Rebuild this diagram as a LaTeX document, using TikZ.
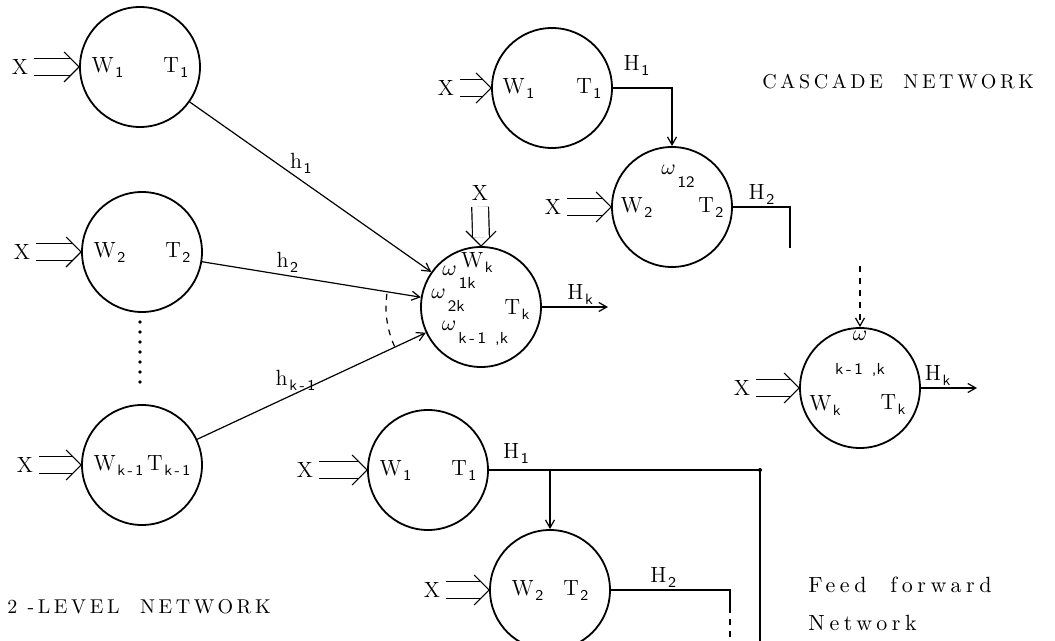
\documentclass[tikz,border=0pt]{standalone}
\usepackage{fontspec}
\usetikzlibrary{arrows.meta,calc}

\newfontfamily\capsfont[LetterSpace=18]{lmroman10-regular.otf}
\newfontfamily\ffont[LetterSpace=21]{lmroman10-regular.otf}
\newcommand{\subs}[1]{\raisebox{-2.5pt}{\kern0.8pt\fontsize{7.5}{8}\sffamily #1}}
\newcommand{\wsub}[1]{$\omega$\raisebox{-6.5pt}{\kern1pt\fontsize{8}{9}\sffamily #1}}
% double input arrows (X => node)
\newcommand{\dblin}[2]{%
  \draw[wire,double,double distance=7.8pt,shorten <=2pt] (#1.east) -- ([xshift=-4.5pt]#2.west);
  \draw[wire] ([xshift=-7.5pt,yshift=7.5pt]#2.west) -- (#2.west) -- ([xshift=-7.5pt,yshift=-7.5pt]#2.west);}
\newcommand{\dbldown}[2]{%
  \draw[wire,double,double distance=7.8pt,shorten <=2pt] (#1.south) -- ([yshift=4.5pt]#2.north);
  \draw[wire] ([xshift=-7.5pt,yshift=7.5pt]#2.north) -- (#2.north) -- ([xshift=7.5pt,yshift=7.5pt]#2.north);}

\begin{document}
\begin{tikzpicture}[x=0.5pt,y=-0.5pt,
  unit/.style={circle,draw,line width=0.9pt,minimum size=60pt,inner sep=0pt,font=\fontsize{11}{13}\selectfont},
  lbl/.style={inner sep=1pt,font=\fontsize{11}{13}\selectfont},
  wire/.style={line width=0.6pt},
  sig/.style={wire,-{Straight Barb[length=4pt,width=4.5pt]}},
  netname/.style={inner sep=0pt,font=\fontsize{10}{12}\capsfont},
  ffname/.style={inner sep=0pt,font=\fontsize{11}{13}\ffont}]
\useasboundingbox (0,0) rectangle (1055,641);

% 2-level network
\node[unit] (a1) at (140,67) {W\subs{1}\hspace{20pt}T\subs{1}};
\node[unit] (a2) at (142,252) {W\subs{2}\hspace{20pt}T\subs{2}};
\node[unit] (ak1) at (142,465) {W\subs{k\,-\,1}\,T\subs{k\,-\,1}};
\node[unit] (ak) at (481,307) {};
\node[lbl] (xa1) at (20,67) {X};
\node[lbl] (xa2) at (22,252) {X};
\node[lbl] (xak1) at (25,465) {X};
\node[lbl] (xak) at (480,193) {X};
\dblin{xa1}{a1}
\dblin{xa2}{a2}
\dblin{xak1}{ak1}
\dbldown{xak}{ak}
\foreach \y in {322,332,...,382}
  \fill (140,\y) circle (0.9pt);
\node[lbl] (wk) at (477,262) {W\subs{k}};
\node[lbl] (w1k) at (459,277) {\wsub{1k}};
\node[lbl] (w2k) at (448,300) {\wsub{2k}};
\node[lbl] (wkk) at (475,333) {\wsub{k\,-\,1\;\;,k}};
\node[lbl] (tk) at (517,310) {T\subs{k}};
\draw[sig] (a1) -- node[lbl,pos=.46,above=2pt] (h1) {h\subs{1}} (ak);
\draw[sig] (a2) -- node[lbl,pos=.39,above] (h2) {h\subs{2}} (ak);
\draw[sig] (ak1) -- node[lbl,pos=.43,above] (hk1) {h\subs{k\,-\,1}} (ak);
\draw[wire,dashed] ($(ak)+(172:47.5pt)$) arc[start angle=172,end angle=206,radius=47.5pt];
\coordinate (akout) at (608,307);
\draw[sig] (ak) -- node[lbl,pos=.58,above] (hk) {H\subs{k}} (akout);
\node[netname,anchor=west] (twol) at (7,607) {2 -LEVEL\ \ NETWORK};

% cascade network
\node[unit] (c1) at (552,88) {W\subs{1}\hspace{21pt}T\subs{1}};
\node[unit] (c2) at (672,207) {W\subs{2}\hspace{23pt}T\subs{2}};
\node[unit] (ck) at (860,388) {};
\node[lbl] (xc1) at (446,88) {X};
\node[lbl] (xc2) at (553,207) {X};
\node[lbl] (xck) at (742,388) {X};
\dblin{xc1}{c1}
\dblin{xc2}{c2}
\dblin{xck}{ck}
\draw[sig] (c1) -| node[lbl,pos=.2,above=5pt] (hc1) {H\subs{1}} (c2);
\node[lbl] (w12) at (678,176) {\wsub{12}};
\coordinate (c2end) at (790,248);
\draw[wire] (c2) -| node[lbl,pos=.25,above] (hc2) {H\subs{2}} (c2end);
\coordinate (ckin) at (860,266);
\draw[sig,dashed] (ckin) -- (ck);
\node[lbl] (wck) at (860,336) {$\omega$};
\node[lbl] (kkc) at (860,370) {\fontsize{8}{9}\sffamily k\,-\,1\;\;,k};
\node[lbl] (wkc) at (825,405) {W\subs{k}};
\node[lbl] (tkc) at (893,405) {T\subs{k}};
\coordinate (ckout) at (977,388);
\draw[sig] (ck) -- node[lbl,pos=.3,above] (hkc) {H\subs{k}} (ckout);
\node[netname,anchor=west] (casc) at (762,82) {CASCADE\ \ NETWORK};

% feed forward network
\node[unit] (f1) at (428,470) {W\subs{1}\hspace{20pt}T\subs{1}};
\node[unit] (f2) at (550,590) {W\subs{2}\hspace{10pt}T\subs{2}};
\node[lbl] (xf1) at (305,470) {X};
\node[lbl] (xf2) at (432,590) {X};
\dblin{xf1}{f1}
\dblin{xf2}{f2}
\coordinate (ffsplit) at (550,470);
\coordinate (ffcorner) at (760,470);
\coordinate (ffend) at (760,641);
\draw[wire] (f1) -- node[lbl,pos=.1,above=2pt] (hf1) {H\subs{1}} (ffcorner) -- (ffend);
\fill (ffcorner) circle (1pt);
\draw[sig] (ffsplit) -- (f2);
\coordinate (ff2turn) at (730,590);
\coordinate (ff2b) at (730,607);
\coordinate (ff2c) at (730,640);
\draw[wire] (f2) -- node[lbl,pos=.44,above] (hf2) {H\subs{2}} (ff2turn) -- (ff2b);
\draw[wire,dashed] (ff2b) -- (ff2c);
\node[ffname,anchor=west] (ffa) at (808,585) {Feed\ \ forward};
\node[ffname,anchor=west] (ffb) at (808,623) {Network};
\end{tikzpicture}
\end{document}
